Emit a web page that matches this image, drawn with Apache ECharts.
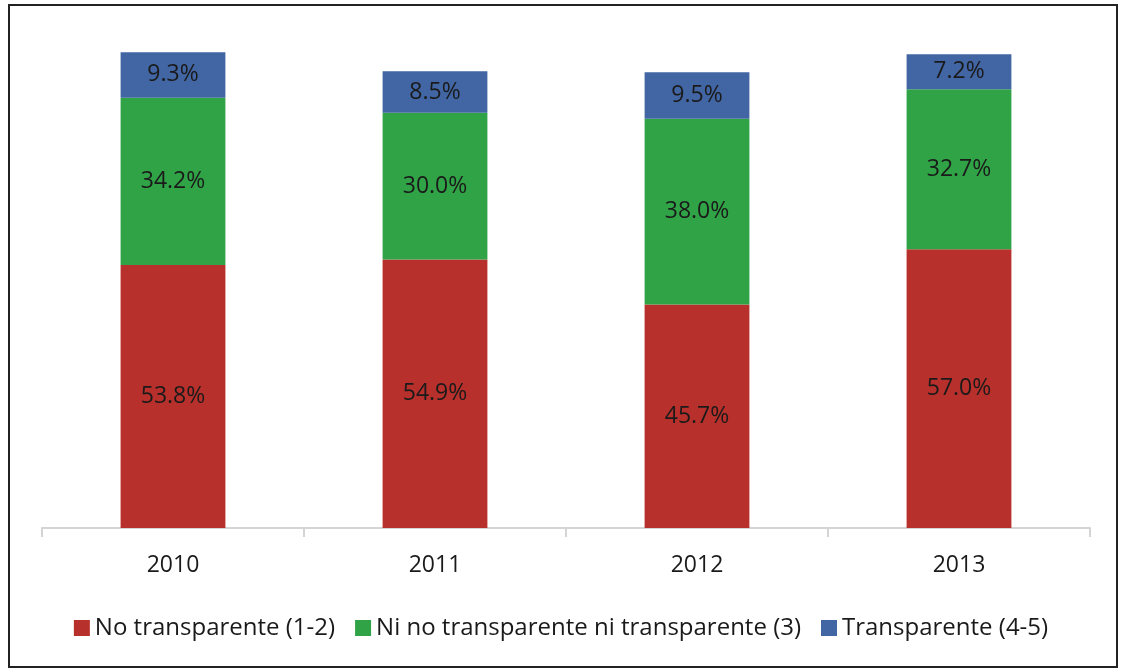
<!DOCTYPE html>
<html lang="es">
<head>
    <meta charset="UTF-8">
    <title>Transparencia</title>
    <style>
        html, body { margin: 0; padding: 0; background: #fff; }
        .chart { width: 1122px; height: 671px; }
    </style>
</head>
<body>
    <div class="chart"></div>
    <script src="https://cdn.jsdelivr.net/npm/echarts@6/dist/echarts.min.js"></script>
    <script>
        const years = ['2010', '2011', '2012', '2013']
        const noTransparente = [53.8, 54.9, 45.7, 57.0]
        const niNi = [34.2, 30.0, 38.0, 32.7]
        const transparente = [9.3, 8.5, 9.5, 7.2]
        const names = ['No transparente (1-2)', 'Ni no transparente ni transparente (3)', 'Transparente (4-5)']
        const colors = ['#b8302b', '#31a347', '#4166a3']

        const chart = echarts.init(document.querySelector('.chart'))
        const font = '"Open Sans", sans-serif'

        const series = [noTransparente, niNi, transparente].map((data, i) => ({
            name: names[i],
            type: 'bar',
            stack: 'total',
            barWidth: '40%',
            data,
            itemStyle: { color: colors[i] },
            label: {
                show: true,
                position: 'inside',
                formatter: p => p.value.toFixed(1) + '%',
                color: '#1a1a1a',
                fontSize: 23,
                fontFamily: font
            }
        }))

        chart.setOption({
            animation: false,
            color: colors,
            graphic: [{
                type: 'rect',
                shape: { x: 9, y: 5, width: 1108, height: 662 },
                style: { fill: 'none', stroke: '#222', lineWidth: 2 }
            }],
            grid: { left: 42, right: 32, top: 39, bottom: 143 },
            legend: {
                bottom: 26,
                left: 'center',
                itemWidth: 16,
                itemHeight: 16,
                itemGap: 20,
                icon: 'rect',
                textStyle: { fontSize: 24, fontFamily: font, color: '#1a1a1a' },
                data: names
            },
            xAxis: {
                type: 'category',
                data: years,
                axisLine: { lineStyle: { color: '#d4d4d4', width: 2 } },
                axisTick: { show: true, length: 9, lineStyle: { color: '#d4d4d4', width: 2 } },
                axisLabel: { fontSize: 23, fontFamily: font, color: '#1a1a1a', margin: 26 }
            },
            yAxis: {
                type: 'value',
                min: 0,
                max: 100,
                show: false,
                splitLine: { show: false }
            },
            series
        })
    </script>
</body>
</html>
